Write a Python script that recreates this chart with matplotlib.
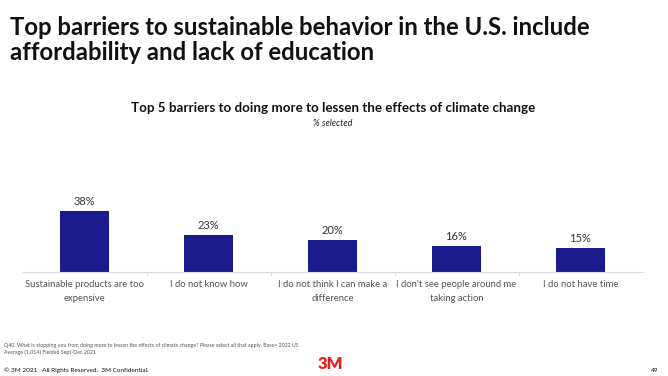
import matplotlib.pyplot as plt

# data
categories = ["Sustainable products are too\nexpensive", "I do not know how",
              "I do not think I can make a\ndifference", "I don't see people around me\ntaking action",
              "I do not have time"]
values = [38, 23, 20, 16, 15]

plt.rcParams['font.family'] = ['Lato', 'DejaVu Sans']

fig = plt.figure(figsize=(6.68, 3.76), dpi=100)

# axes: x from 22 to 642 px, baseline at y=272 px
ax = fig.add_axes([22.5 / 668, (376 - 272) / 376, 620 / 668, 72 / 376])
x = list(range(len(categories)))
ax.bar(x, values, width=0.4, color='#1c1b8e')
for xi, v in zip(x, values):
    ax.text(xi, v + 2.6, f"{v}%", ha='center', va='bottom', fontsize=8, color='#333333')

ax.set_xlim(-0.5, 4.5)
ax.set_ylim(0, 45)
ax.set_yticks([])
ax.set_xticks(x)
ax.set_xticklabels(categories, fontsize=6.8, color='#555555', linespacing=1.6)
ax.tick_params(axis='x', length=0, pad=6)
ax.set_xticks([0.5, 1.5, 2.5, 3.5], minor=True)
ax.tick_params(axis='x', which='minor', length=3, color='#d9d9d9')
for s in ['top', 'right', 'left']:
    ax.spines[s].set_visible(False)
ax.spines['bottom'].set_color('#d9d9d9')
ax.spines['bottom'].set_linewidth(0.8)

# titles
fig.text(10 / 668, 1 - 16 / 376, "Top barriers to sustainable behavior in the U.S. include\naffordability and lack of education",
         ha='left', va='top', fontsize=17.2, fontweight='bold', color='#111111', linespacing=1.12)
fig.text(333 / 668, 1 - 108 / 376, "Top 5 barriers to doing more to lessen the effects of climate change",
         ha='center', va='center', fontsize=9.6, fontweight='bold', color='#111111')
fig.text(333 / 668, 1 - 123 / 376, "% selected", ha='center', va='center', fontsize=6.5,
         style='italic', color='#222222')

# footer
fig.text(4 / 668, 1 - 349 / 376,
         "Q40. What is stopping you from doing more to lessen the effects of climate change? Please select all that apply. Base= 2022 US\nAverage (1,014) Fielded Sept-Dec 2021",
         ha='left', va='center', fontsize=3.75, color='#555555', linespacing=1.5)
fig.text(4 / 668, 1 - 370 / 376, "© 3M 2021   All Rights Reserved.  3M Confidential.",
         ha='left', va='center', fontsize=4.6, color='#111111')
fig.text(330 / 668, 1 - 364 / 376, "3M", ha='center', va='center', fontsize=12,
         fontweight='heavy', color='#e2231a')
fig.text(655 / 668, 1 - 370 / 376, "49", ha='center', va='center', fontsize=4.6, color='#111111')

fig.savefig('out.png', dpi=100)
